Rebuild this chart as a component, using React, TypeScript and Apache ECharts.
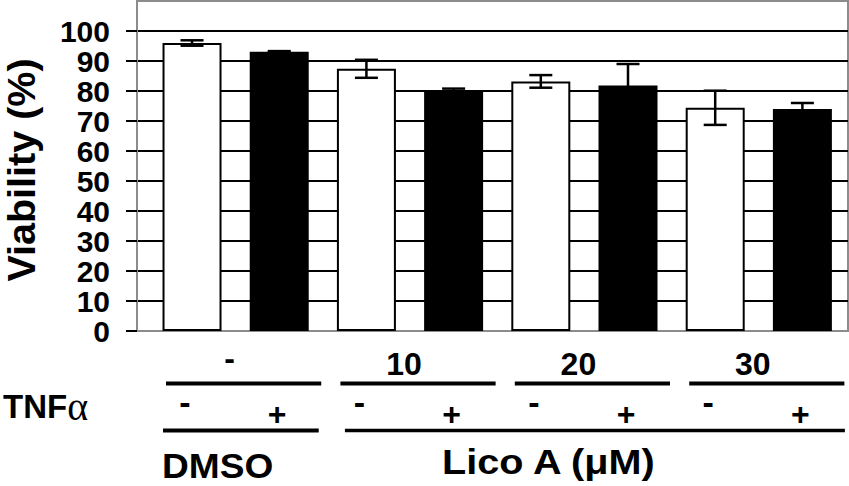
import React, { useEffect, useRef } from "react";
import * as echarts from "echarts";

// ---- data ----
const concentrationLabels = ["-", "10", "20", "30"]; // Lico A (µM); "-" = DMSO
const tnfLabels = ["-", "+"];
const viabilityTnfNeg = [96.0, 87.4, 83.2, 74.4];
const viabilityTnfPos = [93.1, 80.1, 81.8, 74.0];
const errorTnfNeg = [0.9, 3.0, 2.1, 5.7];
const errorTnfPos = [0.2, 0.7, 7.2, 2.0];
const yTicks = [0, 10, 20, 30, 40, 50, 60, 70, 80, 90, 100];

const FONT = "'Liberation Sans', Arial, sans-serif";

export default function App() {
  const ref = useRef<HTMLDivElement>(null);

  useEffect(() => {
    if (!ref.current) return;
    document.body.style.margin = "0";
    const chart = echarts.init(ref.current, undefined, { renderer: "svg" });

    // interleave: index 2g = TNF-, 2g+1 = TNF+
    const bars: any[] = [];
    const errs: any[] = [];
    concentrationLabels.forEach((_, g) => {
      bars.push({ value: [2 * g, viabilityTnfNeg[g]], itemStyle: { color: "#fff", borderColor: "#000", borderWidth: 2 } });
      bars.push({ value: [2 * g + 1, viabilityTnfPos[g]], itemStyle: { color: "#000", borderColor: "#000", borderWidth: 0 } });
      errs.push([2 * g, viabilityTnfNeg[g], errorTnfNeg[g]]);
      errs.push([2 * g + 1, viabilityTnfPos[g], errorTnfPos[g]]);
    });

    const option: any = {
      animation: false,
      backgroundColor: "#fff",
      textStyle: { fontFamily: FONT },
      grid: {
        left: 137,
        top: 1,
        width: 711,
        height: 330,
        show: true,
        borderColor: "#8c8c8c",
        borderWidth: 2,
        containLabel: false,
        outerBoundsMode: "none",
      },
      xAxis: {
        type: "value",
        min: -0.631,
        max: 7.523,
        axisLine: { show: true, onZero: false, lineStyle: { color: "#8c8c8c", width: 2 } },
        axisTick: { show: false },
        axisLabel: { show: false },
        splitLine: { show: false },
      },
      yAxis: {
        type: "value",
        min: 0,
        max: 110,
        interval: 10,
        name: "Viability (%)",
        nameLocation: "middle",
        nameRotate: 90,
        nameGap: 96,
        nameTextStyle: {
          fontFamily: FONT,
          fontWeight: "bold",
          fontSize: 39.5,
          color: "#000",
          padding: [0, 8, 0, 0],
        },
        axisLine: { show: true, onZero: false, lineStyle: { color: "#8c8c8c", width: 2 } },
        axisTick: {
          show: true,
          inside: false,
          length: 11,
          customValues: yTicks,
          lineStyle: { color: "#000", width: 2 },
        },
        axisLabel: {
          show: true,
          customValues: yTicks,
          margin: 27,
          fontFamily: FONT,
          fontWeight: "bold",
          fontSize: 30,
          color: "#000",
        },
        splitLine: {
          show: true,
          lineStyle: {
            width: 2.2,
            color: ["#8c8c8c", "#000", "#000", "#000", "#000", "#000", "#000", "#000", "#000", "#000", "#000", "#8c8c8c"],
          },
        },
      },
      series: [
        {
          type: "bar",
          name: "Viability",
          barWidth: 59,
          data: bars,
          z: 2,
        },
        {
          type: "custom",
          name: "SD",
          z: 3,
          data: errs,
          renderItem: (params: any, api: any) => {
            const x = api.value(0);
            const v = api.value(1);
            const e = api.value(2);
            const top = api.coord([x, v + e]);
            const bot = api.coord([x, v - e]);
            const half = 11.5;
            const style = { stroke: "#000", lineWidth: 2.5 };
            return {
              type: "group",
              children: [
                { type: "line", shape: { x1: top[0], y1: top[1], x2: bot[0], y2: bot[1] }, style },
                { type: "line", shape: { x1: top[0] - half, y1: top[1], x2: top[0] + half, y2: top[1] }, style },
                { type: "line", shape: { x1: bot[0] - half, y1: bot[1], x2: bot[0] + half, y2: bot[1] }, style },
              ],
            };
          },
        },
      ],
    };
    chart.setOption(option);

    // annotation table under the axis, anchored to the bar positions
    const cx = (i: number) => chart.convertToPixel({ gridIndex: 0 }, [i, 0])[0];
    const g: any[] = [];
    const txt = (text: string, x: number, y: number, size: number, align = "center", sx = 1) => ({
      type: "text",
      x,
      y,
      scaleX: sx,
      style: { text, fill: "#000", font: `bold ${size}px ${FONT}`, align, verticalAlign: "middle" },
    });
    const line = (x1: number, x2: number, y: number, w: number) => ({
      type: "line",
      shape: { x1, y1: y, x2, y2: y },
      style: { stroke: "#000", lineWidth: w },
    });
    concentrationLabels.forEach((lab, k) => {
      const w = cx(2 * k);
      const b = cx(2 * k + 1);
      const gc = (w + b) / 2;
      g.push(txt(lab, gc - 6, lab === "-" ? 358 : 363.5, 32));
      g.push(line(w - 26, b + 42, 383.5, 4));
      g.push(txt(tnfLabels[0], w - 7, 402, 34));
      g.push(txt(tnfLabels[1], b - 2, 414, 32));
    });
    g.push(line(cx(0) - 29, cx(1) + 39.5, 430.5, 4));
    g.push(line(cx(2) - 21.5, cx(7) + 42.5, 430.5, 3.5));
    g.push({
      type: "text",
      x: 3,
      y: 406,
      style: {
        text: "{a|TNF}{b|α}",
        verticalAlign: "middle",
        rich: {
          a: { font: `bold 33px ${FONT}`, fill: "#000" },
          b: { font: `40px 'Liberation Serif', serif`, fill: "#000" },
        },
      },
    });
    g.push(txt("DMSO", 162, 466, 35, "left", 1.06));
    g.push(txt("Lico A (μM)", 442, 462, 36, "left", 1.1));
    chart.setOption({ graphic: g });

    return () => chart.dispose();
  }, []);

  return <div ref={ref} style={{ width: 849, height: 486 }} />;
}
